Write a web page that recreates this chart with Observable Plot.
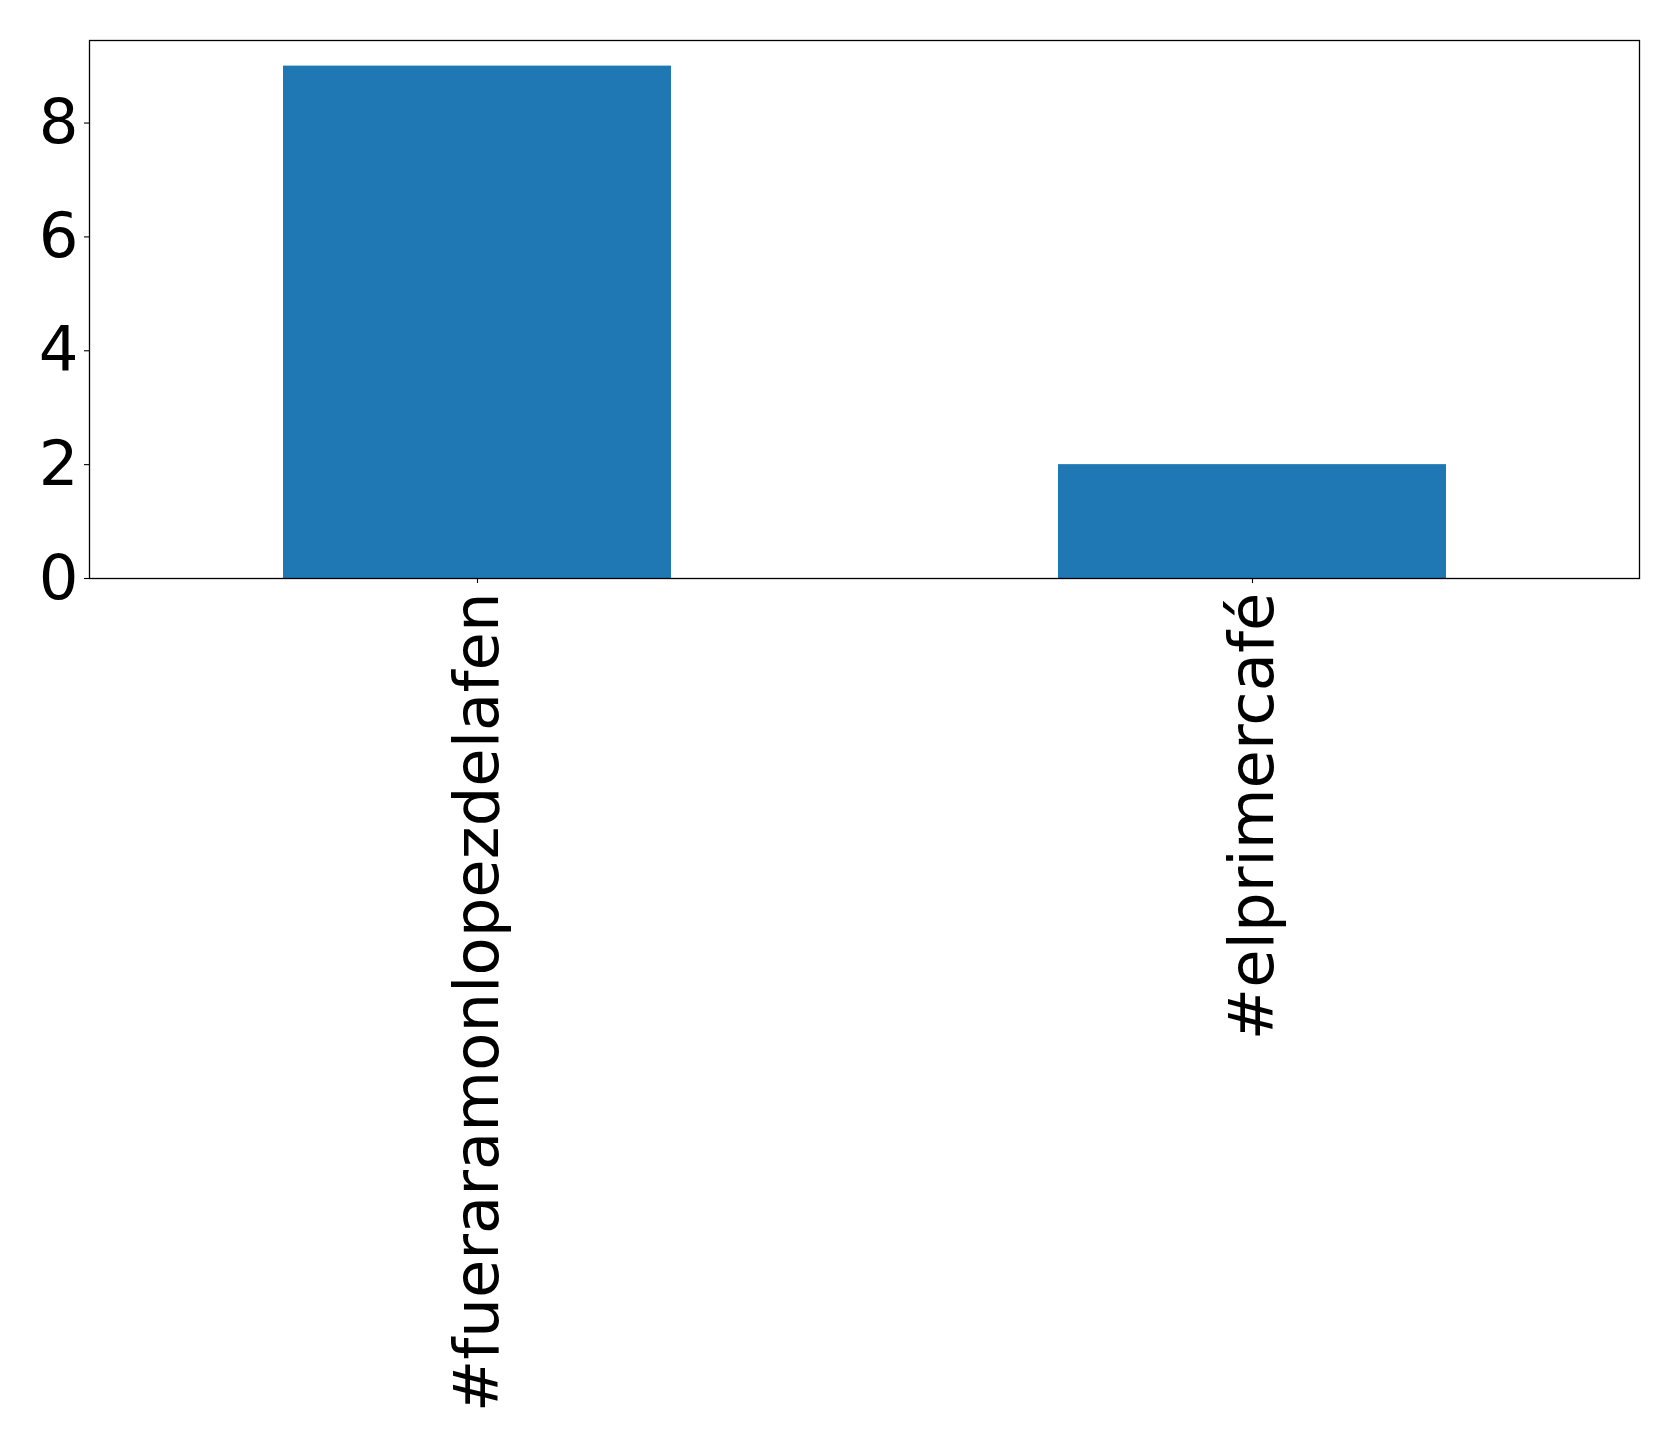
<!DOCTYPE html>
<html>
<head>
<meta charset="utf-8">
<script src="https://cdn.jsdelivr.net/npm/d3@7"></script>
<script src="https://cdn.jsdelivr.net/npm/@observablehq/plot@0.6"></script>
<style>
  html, body { margin: 0; padding: 0; background: #fff; }
  svg { display: block; }
</style>
</head>
<body>
<div id="chart"></div>
<script>
const categories = ["#fueraramonlopezdelafen", "#elprimercafé"];
const counts = [9, 2];
const yTicks = [0, 2, 4, 6, 8];

const data = categories.map((c, i) => ({tag: c, count: counts[i]}));

const chart = Plot.plot({
  width: 1679,
  height: 1447,
  marginLeft: 89,
  marginRight: 40,
  marginTop: 40,
  marginBottom: 869,
  style: {fontFamily: "DejaVu Sans", background: "#fff", color: "#000"},
  x: {domain: categories, paddingInner: 0.5, paddingOuter: 0.25, label: null},
  y: {domain: [0, 9.45], label: null},
  marks: [
    Plot.barY(data, {x: "tag", y: "count", fill: "#1f77b4"}),
    Plot.frame({stroke: "#000", strokeWidth: 1.3}),
    Plot.axisY({ticks: yTicks, tickSize: 5, tickPadding: 6, fontSize: 62.5, label: null, stroke: "#000", strokeWidth: 1.1}),
    Plot.axisX({tickSize: 5, tickPadding: 9, fontSize: 62.5, tickRotate: -90, label: null, stroke: "#000", strokeWidth: 1.1})
  ]
});
document.getElementById("chart").appendChild(chart);
</script>
</body>
</html>
